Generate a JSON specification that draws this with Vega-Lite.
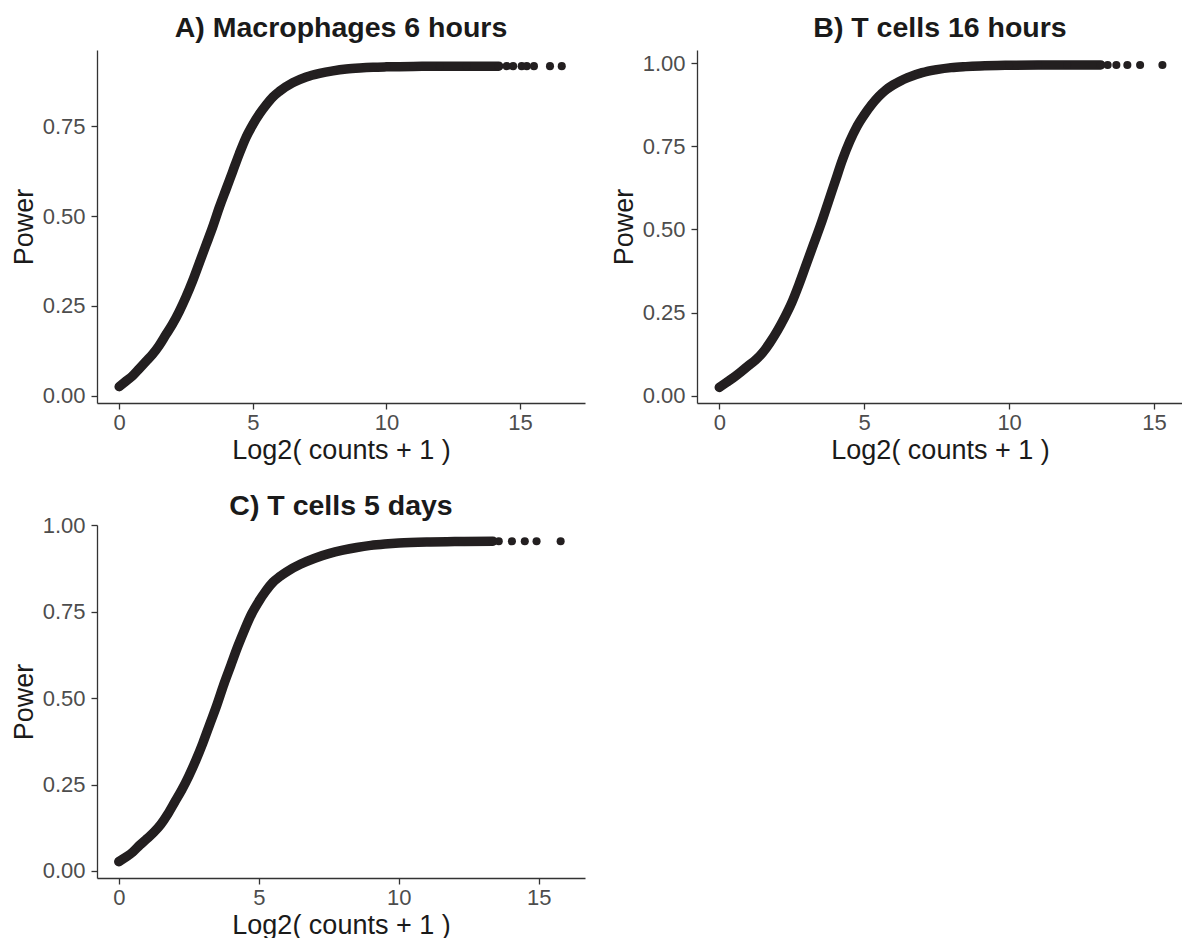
{
  "$schema": "https://vega.github.io/schema/vega-lite/v6.json",
  "autosize": {"type": "pad"},
  "padding": {"left": 10, "top": 13, "right": 0, "bottom": 0},
  "background": "white",
  "bounds": "flush",
  "columns": 2,
  "spacing": {"row": 122, "column": 112},
  "datasets": {
    "A": [
      {"x": 0, "p": 0.025}, {"x": 0.25, "p": 0.04}, {"x": 0.5, "p": 0.055}, {"x": 0.75, "p": 0.075},
      {"x": 1, "p": 0.095}, {"x": 1.25, "p": 0.115}, {"x": 1.5, "p": 0.14}, {"x": 1.75, "p": 0.17},
      {"x": 2, "p": 0.2}, {"x": 2.25, "p": 0.235}, {"x": 2.5, "p": 0.275}, {"x": 2.75, "p": 0.32},
      {"x": 3, "p": 0.37}, {"x": 3.25, "p": 0.42}, {"x": 3.5, "p": 0.47}, {"x": 3.75, "p": 0.525},
      {"x": 4, "p": 0.575}, {"x": 4.25, "p": 0.625}, {"x": 4.5, "p": 0.675}, {"x": 4.75, "p": 0.72},
      {"x": 5, "p": 0.755}, {"x": 5.25, "p": 0.785}, {"x": 5.5, "p": 0.81}, {"x": 5.75, "p": 0.832},
      {"x": 6, "p": 0.848}, {"x": 6.5, "p": 0.872}, {"x": 7, "p": 0.888}, {"x": 7.5, "p": 0.898},
      {"x": 8, "p": 0.905}, {"x": 8.5, "p": 0.91}, {"x": 9, "p": 0.913}, {"x": 9.5, "p": 0.915},
      {"x": 10, "p": 0.916}, {"x": 11, "p": 0.917}, {"x": 12, "p": 0.918}, {"x": 13, "p": 0.918},
      {"x": 14.2, "p": 0.918}, {"x": 14.5, "p": 0.918}, {"x": 14.74, "p": 0.918}, {"x": 15.06, "p": 0.918},
      {"x": 15.25, "p": 0.918}, {"x": 15.52, "p": 0.918}, {"x": 16.12, "p": 0.918}, {"x": 16.56, "p": 0.918}
    ],
    "B": [
      {"x": 0, "p": 0.025}, {"x": 0.25, "p": 0.04}, {"x": 0.5, "p": 0.055}, {"x": 0.75, "p": 0.072},
      {"x": 1, "p": 0.09}, {"x": 1.25, "p": 0.107}, {"x": 1.5, "p": 0.13}, {"x": 1.75, "p": 0.16},
      {"x": 2, "p": 0.195}, {"x": 2.25, "p": 0.235}, {"x": 2.5, "p": 0.28}, {"x": 2.75, "p": 0.335},
      {"x": 3, "p": 0.395}, {"x": 3.25, "p": 0.455}, {"x": 3.5, "p": 0.515}, {"x": 3.75, "p": 0.58},
      {"x": 4, "p": 0.645}, {"x": 4.25, "p": 0.71}, {"x": 4.5, "p": 0.765}, {"x": 4.75, "p": 0.81},
      {"x": 5, "p": 0.845}, {"x": 5.25, "p": 0.875}, {"x": 5.5, "p": 0.9}, {"x": 5.75, "p": 0.92},
      {"x": 6, "p": 0.935}, {"x": 6.25, "p": 0.947}, {"x": 6.5, "p": 0.957}, {"x": 7, "p": 0.972},
      {"x": 7.5, "p": 0.981}, {"x": 8, "p": 0.987}, {"x": 8.5, "p": 0.99}, {"x": 9, "p": 0.992},
      {"x": 10, "p": 0.994}, {"x": 11, "p": 0.995}, {"x": 12, "p": 0.995}, {"x": 13.16, "p": 0.995},
      {"x": 13.4, "p": 0.995}, {"x": 13.7, "p": 0.995}, {"x": 14.08, "p": 0.995}, {"x": 14.52, "p": 0.995},
      {"x": 15.29, "p": 0.995}
    ],
    "C": [
      {"x": 0, "p": 0.027}, {"x": 0.25, "p": 0.04}, {"x": 0.5, "p": 0.055}, {"x": 0.75, "p": 0.075},
      {"x": 1, "p": 0.093}, {"x": 1.25, "p": 0.112}, {"x": 1.5, "p": 0.135}, {"x": 1.75, "p": 0.165},
      {"x": 2, "p": 0.2}, {"x": 2.25, "p": 0.235}, {"x": 2.5, "p": 0.275}, {"x": 2.75, "p": 0.32},
      {"x": 3, "p": 0.37}, {"x": 3.25, "p": 0.425}, {"x": 3.5, "p": 0.48}, {"x": 3.75, "p": 0.54},
      {"x": 4, "p": 0.595}, {"x": 4.25, "p": 0.65}, {"x": 4.5, "p": 0.7}, {"x": 4.75, "p": 0.745},
      {"x": 5, "p": 0.78}, {"x": 5.25, "p": 0.81}, {"x": 5.5, "p": 0.835}, {"x": 5.75, "p": 0.852},
      {"x": 6, "p": 0.866}, {"x": 6.5, "p": 0.888}, {"x": 7, "p": 0.905}, {"x": 7.5, "p": 0.918},
      {"x": 8, "p": 0.928}, {"x": 8.5, "p": 0.936}, {"x": 9, "p": 0.942}, {"x": 9.5, "p": 0.946},
      {"x": 10, "p": 0.949}, {"x": 11, "p": 0.952}, {"x": 12, "p": 0.953}, {"x": 13.36, "p": 0.954},
      {"x": 13.57, "p": 0.954}, {"x": 14.04, "p": 0.954}, {"x": 14.5, "p": 0.954}, {"x": 14.92, "p": 0.954},
      {"x": 15.78, "p": 0.954}
    ]
  },
  "config": {
    "view": {"stroke": null},
    "font": "Liberation Sans",
    "axis": {
      "grid": false,
      "domainColor": "#333333",
      "domainWidth": 1.3,
      "tickColor": "#333333",
      "tickWidth": 1.3,
      "tickSize": 6,
      "labelFont": "Liberation Sans",
      "labelFontSize": 22,
      "labelColor": "#4d4d4d",
      "titleFont": "Liberation Sans",
      "titleFontSize": 27,
      "titleFontWeight": "normal",
      "titleColor": "#1a1a1a"
    },
    "axisX": {"labelPadding": 3, "titlePadding": 4},
    "axisY": {"labelPadding": 6, "titlePadding": 4},
    "title": {
      "font": "Liberation Sans",
      "fontSize": 28.5,
      "fontWeight": "bold",
      "color": "#1a1a1a",
      "anchor": "middle",
      "frame": "group",
      "offset": 8
    }
  },
  "concat": [
    {
      "title": {"text": "A) Macrophages 6 hours"},
      "width": 488,
      "height": 353,
      "data": {"name": "A"},
      "encoding": {
        "x": {"field": "x", "type": "quantitative",
              "scale": {"domain": [-0.83, 17.43], "nice": false, "zero": false},
              "axis": {"values": [0, 5, 10, 15], "title": "Log2( counts + 1 )"}},
        "y": {"field": "p", "type": "quantitative",
              "scale": {"domain": [-0.0206, 0.963], "nice": false, "zero": false},
              "axis": {"values": [0, 0.25, 0.5, 0.75], "format": ".2f", "title": "Power"}}
      },
      "layer": [
        {"transform": [{"filter": "datum.x <= 14.2"}],
         "mark": {"type": "line", "strokeWidth": 9.5, "strokeCap": "round", "strokeJoin": "round", "color": "#231f20", "interpolate": "monotone"}},
        {"mark": {"type": "circle", "size": 65, "color": "#231f20", "opacity": 1}}
      ]
    },
    {
      "title": {"text": "B) T cells 16 hours"},
      "width": 486,
      "height": 353,
      "data": {"name": "B"},
      "encoding": {
        "x": {"field": "x", "type": "quantitative",
              "scale": {"domain": [-0.77, 16.0], "nice": false, "zero": false},
              "axis": {"values": [0, 5, 10, 15], "title": "Log2( counts + 1 )"}},
        "y": {"field": "p", "type": "quantitative",
              "scale": {"domain": [-0.022, 1.04], "nice": false, "zero": false},
              "axis": {"values": [0, 0.25, 0.5, 0.75, 1], "format": ".2f", "title": "Power"}}
      },
      "layer": [
        {"transform": [{"filter": "datum.x <= 13.16"}],
         "mark": {"type": "line", "strokeWidth": 9.5, "strokeCap": "round", "strokeJoin": "round", "color": "#231f20", "interpolate": "monotone"}},
        {"mark": {"type": "circle", "size": 65, "color": "#231f20", "opacity": 1}}
      ]
    },
    {
      "title": {"text": "C) T cells 5 days", "offset": -6},
      "width": 488,
      "height": 353,
      "data": {"name": "C"},
      "encoding": {
        "x": {"field": "x", "type": "quantitative",
              "scale": {"domain": [-0.78, 16.65], "nice": false, "zero": false},
              "axis": {"values": [0, 5, 10, 15], "title": "Log2( counts + 1 )"}},
        "y": {"field": "p", "type": "quantitative",
              "scale": {"domain": [-0.0203, 1.001], "nice": false, "zero": false},
              "axis": {"values": [0, 0.25, 0.5, 0.75, 1], "format": ".2f", "title": "Power"}}
      },
      "layer": [
        {"transform": [{"filter": "datum.x <= 13.36"}],
         "mark": {"type": "line", "strokeWidth": 9.5, "strokeCap": "round", "strokeJoin": "round", "color": "#231f20", "interpolate": "monotone"}},
        {"mark": {"type": "circle", "size": 65, "color": "#231f20", "opacity": 1}}
      ]
    }
  ]
}
